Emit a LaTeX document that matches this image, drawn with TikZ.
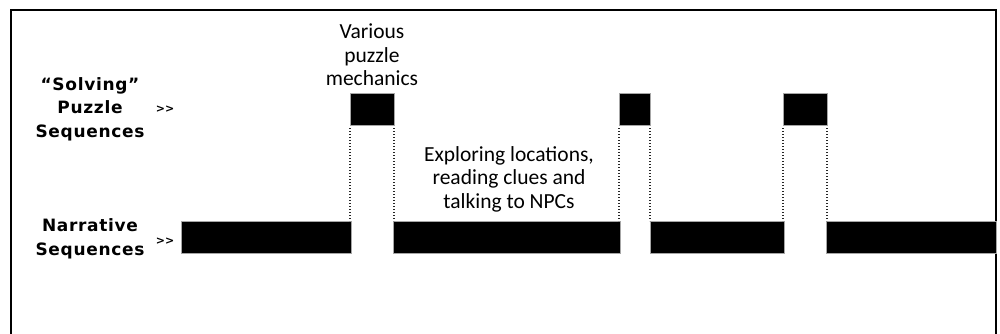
\documentclass[tikz,border=0pt]{standalone}
\usepackage{fontspec}
\setmainfont{Carlito}
\newfontfamily\labelfont[LetterSpace=4]{DejaVu Sans}
\newfontfamily\arrowfont{DejaVu Sans}
\usetikzlibrary{positioning}

\begin{document}
\begin{tikzpicture}[x=1pt, y=-1pt, thick]
\tikzstyle{every node} = [inner sep=0pt, outer sep=0pt]
\tikzstyle{bar} = [rectangle, fill=black, draw=gray!70, thin, minimum height=32pt]
\tikzstyle{guide} = [line width=1.4pt, dash pattern=on 1.4pt off 1.6pt, black!85]
\tikzstyle{side} = [align=center, font=\labelfont\bfseries\fontsize{17}{23.5}\selectfont]
\tikzstyle{arr} = [font=\arrowfont\bfseries\fontsize{11}{12}\selectfont]
\tikzstyle{note} = [align=center, font=\fontsize{21.5}{23.5}\selectfont]
\useasboundingbox (0,0) rectangle (1000,334);
\draw[line width=1.6pt] (11,334) -- (11,10) -- (996,10) -- (996,334);
% narrative bars
\node[bar, minimum width=170pt] (n1) at (266,237) {};
\node[bar, minimum width=227pt] (n2) at (506.5,237) {};
\node[bar, minimum width=134pt] (n3) at (717,237) {};
\node[bar, minimum width=170pt] (n4) at (911,237) {};
% puzzle boxes
\node[bar, minimum width=44pt] (p1) at (372,109) {};
\node[bar, minimum width=31pt] (p2) at (634.5,109) {};
\node[bar, minimum width=44pt] (p3) at (805,109) {};
\foreach \p/\n in {p1/n1, p2/n2, p3/n3}
\draw[guide] (\p.south west) ++(0,3) -- (\p.south west |- \n.north);
\foreach \p/\n in {p1/n2, p2/n3, p3/n4}
\draw[guide] (\p.south east) ++(0,3) -- (\p.south east |- \n.north);
% labels
\node[side] (solve) at (90,109) {“Solving”\\Puzzle\\Sequences};
\node[arr] (solvearr) at (165,109) {>>};
\node[side] (narr) at (90,239) {Narrative\\Sequences};
\node[arr] (narrarr) at (165,241) {>>};
\node[note] (mech) at (372,55) {Various\\puzzle\\mechanics};
\node[note] (explore) at (509,179) {Exploring locations,\\reading clues and\\talking to NPCs};
\end{tikzpicture}
\end{document}
